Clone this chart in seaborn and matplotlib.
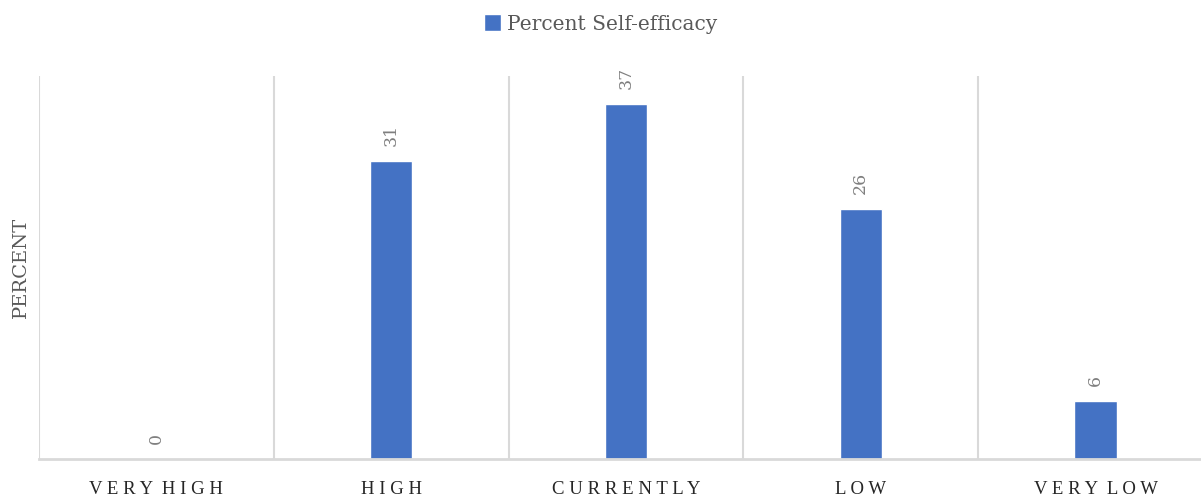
import numpy as np
import pandas as pd
import matplotlib.pyplot as plt
import seaborn as sns

# ── Data ─────────────────────────────────────────────────────────────────────
categories = ["VERY HIGH", "HIGH", "CURRENTLY", "LOW", "VERY LOW"]
percent = [0, 31, 37, 26, 6]
series_name = "Percent Self-efficacy"

BAR_COLOR = "#4472C4"
GRID_COLOR = "#D9D9D9"
TEXT_GRAY = "#595959"


def spaced(label):
    """Fake letter spacing with plain spaces."""
    return "  ".join(" ".join(word) for word in label.split())


df = pd.DataFrame({"category": categories, "percent": percent})

sns.set_style("white")
plt.rcParams["font.family"] = ["DejaVu Serif"]

fig = plt.figure(figsize=(12.01, 4.97), dpi=100)
ax = fig.add_axes([39 / 1201, 1 - 459 / 497, 1 - 39 / 1201 + 0.01, (459 - 76) / 497])

sns.barplot(data=df, x="category", y="percent", color=BAR_COLOR,
            width=0.18, saturation=1, label=series_name, ax=ax)

# value labels, rotated like the original
for i, v in enumerate(percent):
    ax.annotate(f"{v}", (i, v), xytext=(0, 11), textcoords="offset points",
                rotation=90, ha="center", va="bottom",
                fontsize=12.5, color="#7F7F7F")

ax.set_xlim(-0.5, -0.5 + 1172 / 234.5)
ax.set_ylim(0, 39.9)
ax.set_yticks([])
ax.set_xticks(range(len(categories)))
ax.set_xticklabels([spaced(c) for c in categories], fontsize=13.5,
                   color="#262626", family="Liberation Serif")
ax.set_xticks(np.arange(-0.5, len(categories), 1), minor=True)
ax.tick_params(axis="x", which="both", length=0, pad=16)
ax.grid(which="minor", axis="x", color=GRID_COLOR, linewidth=1.5)
ax.set_xlabel("")
ax.set_ylabel("")

for side in ["top", "right", "left"]:
    ax.spines[side].set_visible(False)
ax.spines["bottom"].set_color(GRID_COLOR)
ax.spines["bottom"].set_linewidth(2)

fig.text(21 / 1201, 1 - 267 / 497, "PERCENT", rotation=90, ha="center",
         va="center", fontsize=14, color=TEXT_GRAY)

leg = ax.legend(loc="center", bbox_to_anchor=(0.5, 1 - 24 / 497),
                bbox_transform=fig.transFigure, frameon=False, fontsize=14.5,
                handlelength=0.85, handleheight=0.85, handletextpad=0.3)
for t in leg.get_texts():
    t.set_color(TEXT_GRAY)

plt.savefig("out.png", dpi=100, facecolor="white")
